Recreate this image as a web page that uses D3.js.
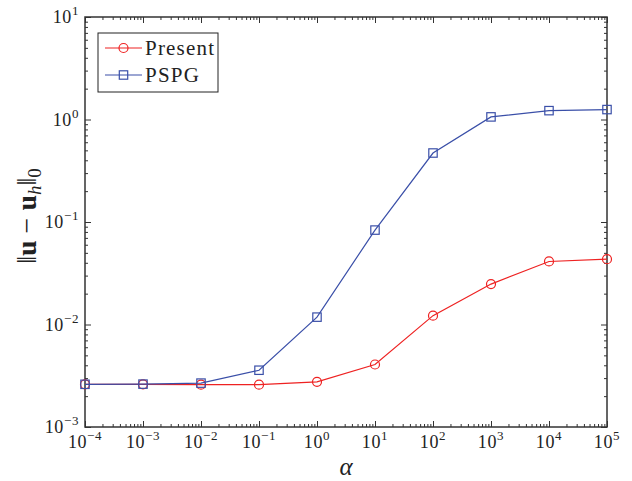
<!DOCTYPE html>
<html>
<head>
<meta charset="utf-8">
<script src="https://cdn.jsdelivr.net/npm/d3@7"></script>
</head>
<body style="margin:0">
<script>
// alpha values and errors
const alphaExp = [-4, -3, -2, -1, 0, 1, 2, 3, 4, 5];
const present = [0.00261, 0.00261, 0.00259, 0.00259, 0.00276, 0.00407, 0.0122, 0.0248, 0.0412, 0.0434];
const pspg = [0.00261, 0.00262, 0.00268, 0.00358, 0.0118, 0.0834, 0.471, 1.06, 1.22, 1.25];
const xTickExp = [-4, -3, -2, -1, 0, 1, 2, 3, 4, 5];
const yTickExp = [-3, -2, -1, 0, 1];

const width = 632, height = 481;
const m = { left: 85, right: 25, top: 17, bottom: 54 };
const fontFam = 'Liberation Serif';

const svg = d3.select('body').append('svg')
  .attr('width', width)
  .attr('height', height);

const x = d3.scaleLog().domain([1e-4, 1e5]).range([m.left, width - m.right]);
const y = d3.scaleLog().domain([1e-3, 1e1]).range([height - m.bottom, m.top]);

const minorX = [], minorY = [];
xTickExp.slice(0, -1).forEach(e => { for (let k = 2; k < 10; k++) minorX.push(k * Math.pow(10, e)); });
yTickExp.slice(0, -1).forEach(e => { for (let k = 2; k < 10; k++) minorY.push(k * Math.pow(10, e)); });
const majorX = xTickExp.map(e => Math.pow(10, e));
const majorY = yTickExp.map(e => Math.pow(10, e));

const axisColor = '#333';
function drawAxis(axis, tx, ty) {
  const g = svg.append('g').attr('transform', `translate(${tx},${ty})`).call(axis);
  g.selectAll('path.domain').remove();
  g.selectAll('line').attr('stroke', axisColor).attr('stroke-width', 1);
  g.selectAll('text').remove();
}
const xb = height - m.bottom, xt = m.top, yl = m.left, yr = width - m.right;
// major ticks inward
drawAxis(d3.axisBottom(x).tickValues(majorX).tickSize(-6), 0, xb);
drawAxis(d3.axisTop(x).tickValues(majorX).tickSize(-6), 0, xt);
drawAxis(d3.axisLeft(y).tickValues(majorY).tickSize(-6), yl, 0);
drawAxis(d3.axisRight(y).tickValues(majorY).tickSize(-6), yr, 0);
// minor ticks
drawAxis(d3.axisBottom(x).tickValues(minorX).tickSize(-3), 0, xb);
drawAxis(d3.axisTop(x).tickValues(minorX).tickSize(-3), 0, xt);
drawAxis(d3.axisLeft(y).tickValues(minorY).tickSize(-3), yl, 0);
drawAxis(d3.axisRight(y).tickValues(minorY).tickSize(-3), yr, 0);

svg.append('rect')
  .attr('x', yl).attr('y', xt)
  .attr('width', yr - yl).attr('height', xb - xt)
  .attr('fill', 'none')
  .attr('stroke', axisColor)
  .attr('stroke-width', 1.5);

// tick labels
function powLabel(sel, e) {
  sel.append('tspan').style('font-family', fontFam).text('10');
  sel.append('tspan').attr('dy', -8).style('font-family', fontFam).style('font-size', '13px')
    .text(e < 0 ? '\u2212' + (-e) : String(e));
}
xTickExp.forEach(e => {
  const t = svg.append('text')
    .attr('x', x(Math.pow(10, e)))
    .attr('y', xb + 20.5)
    .attr('text-anchor', 'middle')
    .style('font-family', fontFam)
    .style('font-size', '18px')
    .style('letter-spacing', '0.6px')
    .attr('fill', '#222');
  powLabel(t, e);
});
yTickExp.forEach(e => {
  const t = svg.append('text')
    .attr('x', yl - 6)
    .attr('y', y(Math.pow(10, e)) + 6)
    .attr('text-anchor', 'end')
    .style('font-family', fontFam)
    .style('font-size', '18px')
    .style('letter-spacing', '0.6px')
    .attr('fill', '#222');
  powLabel(t, e);
});

// axis titles
svg.append('text')
  .attr('x', (yl + yr) / 2)
  .attr('y', 475)
  .attr('text-anchor', 'middle')
  .style('font-family', fontFam)
  .style('font-size', '25px')
  .style('font-style', 'italic')
  .attr('fill', '#222')
  .text('\u03b1');

const yt = svg.append('text')
  .attr('transform', 'translate(36,216) rotate(-90)')
  .attr('text-anchor', 'middle')
  .style('font-family', fontFam)
  .style('font-size', '28px')
  .attr('fill', '#222');
yt.append('tspan').text('\u2016');
yt.append('tspan').style('font-weight', 'bold').text('u');
yt.append('tspan').text(' \u2212 ');
yt.append('tspan').style('font-weight', 'bold').text('u');
yt.append('tspan').attr('dy', 5).style('font-size', '19px').style('font-style', 'italic').text('h');
yt.append('tspan').attr('dy', -5).text('\u2016');
yt.append('tspan').attr('dy', 5).style('font-size', '19px').text('0');

// series
const series = [
  { name: 'Present', values: present, color: '#ee2222', marker: 'circle' },
  { name: 'PSPG', values: pspg, color: '#3a4fa8', marker: 'square' }
];

const line = d3.line()
  .x(d => x(Math.pow(10, d.e)))
  .y(d => y(d.v));

function marker(g, kind, color) {
  if (kind === 'circle') {
    return g.append('circle').attr('r', 4.5)
      .attr('fill', 'none').attr('stroke', color).attr('stroke-width', 1.2);
  }
  return g.append('rect').attr('x', -4.2).attr('y', -4.2).attr('width', 8.4).attr('height', 8.4)
    .attr('fill', 'none').attr('stroke', color).attr('stroke-width', 1.2);
}

series.forEach(s => {
  const pts = alphaExp.map((e, i) => ({ e, v: s.values[i] }));
  svg.append('path')
    .datum(pts)
    .attr('d', line)
    .attr('fill', 'none')
    .attr('stroke', s.color)
    .attr('stroke-width', 1.2);
  pts.forEach(p => {
    const g = svg.append('g')
      .attr('transform', `translate(${x(Math.pow(10, p.e))},${y(p.v)})`);
    marker(g, s.marker, s.color);
  });
});

// legend
const lg = svg.append('g').attr('transform', 'translate(98,33)');
lg.append('rect')
  .attr('width', 120).attr('height', 59)
  .attr('fill', '#fff')
  .attr('stroke', '#222')
  .attr('stroke-width', 1);
series.forEach((s, i) => {
  const yy = 15 + i * 27;
  lg.append('line')
    .attr('x1', 7).attr('x2', 44)
    .attr('y1', yy).attr('y2', yy)
    .attr('stroke', s.color).attr('stroke-width', 1.2);
  const g = lg.append('g').attr('transform', `translate(25.5,${yy})`);
  marker(g, s.marker, s.color);
  lg.append('text')
    .attr('x', 47).attr('y', yy + 7)
    .style('font-family', fontFam)
    .style('font-size', '21px')
    .style('letter-spacing', '1.2px')
    .attr('fill', '#222')
    .text(s.name);
});
</script>
</body>
</html>
